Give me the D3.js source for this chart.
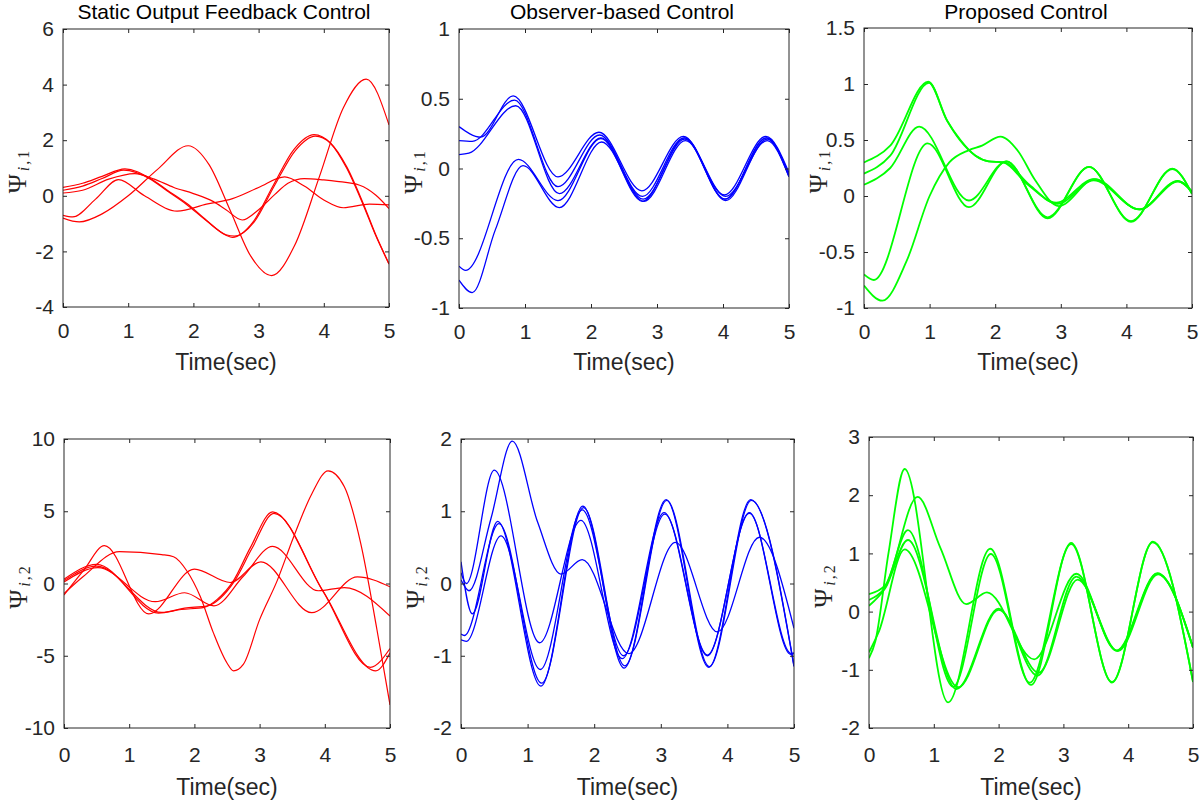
<!DOCTYPE html>
<html>
<head>
<meta charset="utf-8">
<script src="https://cdn.jsdelivr.net/npm/d3@7"></script>
<style>
  body { margin: 0; background: #fff; }
  svg { display: block; }
</style>
</head>
<body>
<svg id="chart"></svg>
<script>
// -----------------------------
// DATA (time in sec, value)
// -----------------------------
const timeTicks = [0, 1, 2, 3, 4, 5];
const titles = ["Static Output Feedback Control", "Observer-based Control", "Proposed Control"];

const yTicksSof1 = [-4, -2, 0, 2, 4, 6];
const yTicksObs1 = [-1, -0.5, 0, 0.5, 1];
const yTicksProp1 = [-1, -0.5, 0, 0.5, 1, 1.5];
const yTicksSof2 = [-10, -5, 0, 5, 10];
const yTicksObs2 = [-2, -1, 0, 1, 2];
const yTicksProp2 = [-2, -1, 0, 1, 2, 3];

// static output feedback, state 1
const sofPsi1 = [
  [[0,-0.8],[0.25,-0.94],[0.6,-0.65],[1.0,0.0],[1.45,0.95],[1.92,1.8],[2.24,1.12],[2.56,-0.5],[2.88,-2.17],[3.2,-2.87],[3.55,-1.8],[3.93,0.67],[4.3,3.17],[4.65,4.2],[5,2.55]],
  [[0,-0.7],[0.15,-0.76],[0.5,-0.12],[0.85,0.58],[1.25,0.0],[1.75,-0.55],[2.2,-0.3],[2.6,-0.1],[3.0,0.3],[3.4,0.68],[3.7,0.35],[4.0,-0.15],[4.3,-0.43],[4.7,-0.3],[5,-0.33]],
  [[0,0.1],[0.3,0.2],[0.7,0.6],[1.1,0.8],[1.4,0.6],[1.7,0.3],[2.0,0.08],[2.3,-0.2],[2.5,-0.5],[2.75,-0.87],[3.0,-0.5],[3.25,0.05],[3.45,0.45],[3.7,0.62],[4.0,0.57],[4.2,0.52],[4.55,0.38],[4.8,0.02],[5,-0.46]],
  [[0,0.3],[0.3,0.45],[0.6,0.7],[0.95,0.97],[1.34,0.62],[1.6,0.2],[1.9,-0.28],[2.2,-0.88],[2.5,-1.42],[2.6,-1.5],[2.91,-0.96],[3.22,0.35],[3.54,1.66],[3.85,2.2],[4.1,1.9],[4.35,1.0],[4.6,-0.3],[4.8,-1.45],[5,-2.45]],
  [[0,0.2],[0.3,0.35],[0.6,0.62],[0.93,0.92],[1.34,0.6],[1.6,0.17],[1.9,-0.32],[2.2,-0.9],[2.5,-1.4],[2.63,-1.45],[2.93,-0.95],[3.24,0.35],[3.56,1.62],[3.87,2.15],[4.1,1.9],[4.35,1.05],[4.6,-0.25],[4.8,-1.42],[5,-2.45]]
];

// observer-based, state 1
const obsPsi1 = [
  [[0,0.3],[0.33,0.225],[0.82,0.52],[1.5,-0.06],[2.12,0.26],[2.77,-0.16],[3.4,0.23],[4.02,-0.19],[4.65,0.23],[5,-0.03]],
  [[0,0.2],[0.2,0.195],[0.84,0.49],[1.5,-0.13],[2.13,0.24],[2.78,-0.2],[3.41,0.22],[4.03,-0.22],[4.66,0.22],[5,-0.05]],
  [[0,0.1],[0.15,0.11],[0.86,0.45],[1.52,-0.18],[2.15,0.22],[2.79,-0.22],[3.42,0.21],[4.04,-0.23],[4.67,0.21],[5,-0.06]],
  [[0,-0.7],[0.1,-0.73],[0.9,0.065],[1.5,-0.23],[2.15,0.215],[2.78,-0.235],[3.42,0.22],[4.03,-0.22],[4.66,0.22],[5,-0.05]],
  [[0,-0.8],[0.2,-0.89],[0.55,-0.44],[0.97,0.02],[1.52,-0.28],[2.16,0.19],[2.8,-0.235],[3.43,0.2],[4.04,-0.2],[4.67,0.2],[5,-0.06]]
];

// proposed, state 1
const propPsi1 = [
  [[0,0.3],[0.4,0.45],[0.98,1.02],[1.26,0.68],[1.46,0.5],[1.7,0.36],[1.9,0.31],[2.12,0.3],[2.5,0.1],[2.93,-0.06],[3.5,0.15],[4.2,-0.12],[4.78,0.135],[5,0.04]],
  [[0,0.2],[0.4,0.36],[0.99,1.01],[1.27,0.67],[1.47,0.5],[1.7,0.36],[1.9,0.31],[2.14,0.3],[2.52,0.1],[2.95,-0.07],[3.5,0.14],[4.2,-0.12],[4.78,0.13],[5,0.04]],
  [[0,0.1],[0.4,0.25],[0.84,0.62],[1.6,-0.04],[2.17,0.31],[2.8,-0.19],[3.43,0.26],[4.07,-0.225],[4.7,0.24],[5,0.02]],
  [[0,-0.7],[0.15,-0.75],[0.97,0.47],[1.6,-0.1],[2.17,0.31],[2.8,-0.2],[3.43,0.26],[4.07,-0.23],[4.7,0.245],[5,0.02]],
  [[0,-0.8],[0.28,-0.935],[0.65,-0.58],[1.0,0.0],[1.3,0.3],[1.6,0.41],[1.8,0.45],[2.08,0.53],[2.35,0.4],[2.6,0.15],[2.97,-0.09],[3.52,0.15],[4.2,-0.12],[4.8,0.13],[5,0.03]]
];

// static output feedback, state 2
const sofPsi2 = [
  [[0,-0.8],[0.3,0.9],[0.62,2.62],[1.3,-2.1],[2.0,1.0],[2.55,0.07],[3.02,1.5],[3.8,-2.02],[4.5,0.46],[5,-0.23]],
  [[0,-0.7],[0.3,0.5],[0.85,2.2],[1.5,2.0],[1.68,1.85],[1.88,0.9],[2.09,-0.9],[2.29,-3.4],[2.5,-5.5],[2.6,-6.05],[2.75,-5.6],[3.0,-2.5],[3.27,0.2],[3.52,3.2],[3.8,6.2],[4.05,7.8],[4.3,6.7],[4.55,2.8],[4.8,-3.2],[5,-8.4]],
  [[0,0.1],[0.52,1.1],[1.4,-1.26],[1.85,-0.64],[2.3,-1.55],[2.75,0.5],[3.2,2.57],[3.9,-0.5],[4.3,-0.28],[5,-2.25]],
  [[0,0.3],[0.5,1.33],[1.45,-2.05],[1.8,-1.8],[2.15,-1.65],[2.35,-1.1],[2.6,0.2],[2.86,2.5],[3.2,4.95],[3.97,-0.5],[4.78,-6.05],[5,-4.8]],
  [[0,0.2],[0.5,1.2],[1.5,-2.0],[1.85,-1.7],[2.2,-1.55],[2.4,-1.0],[2.62,0.2],[2.88,2.4],[3.22,4.85],[3.98,-0.6],[4.7,-5.8],[5,-4.5]]
];

// observer-based, state 2
const obsPsi2 = [
  [[0,0.05],[0.12,-0.1],[0.45,0.9],[0.77,1.97],[1.15,0.85],[1.5,0.13],[1.82,0.33],[2.52,-0.97],[3.22,0.57],[3.85,-0.67],[4.48,0.64],[5,-0.62]],
  [[0,0.15],[0.08,0.0],[0.5,1.57],[1.18,-0.82],[1.8,0.875],[2.42,-1.04],[3.05,0.98],[3.7,-1.0],[4.33,0.98],[4.95,-0.98],[5,-0.97]],
  [[0,0.3],[0.17,-0.42],[0.55,0.86],[1.2,-1.42],[1.83,1.07],[2.45,-1.17],[3.08,1.16],[3.72,-1.16],[4.35,1.16],[5,-1.15]],
  [[0,-0.7],[0.05,-0.72],[0.57,0.83],[1.21,-1.38],[1.84,1.05],[2.46,-1.14],[3.09,1.15],[3.73,-1.15],[4.36,1.15],[5,-1.14]],
  [[0,-0.78],[0.08,-0.8],[0.6,0.66],[1.19,-1.19],[1.82,1.02],[2.44,-1.0],[3.06,0.96],[3.7,-0.99],[4.33,0.97],[4.96,-0.97],[5,-0.96]]
];

// proposed, state 2
const propPsi2 = [
  [[0,-0.8],[0.1,-0.5],[0.3,1.0],[0.55,2.45],[1.22,-1.56],[1.87,1.08],[2.5,-1.26],[3.12,1.18],[3.75,-1.22],[4.38,1.2],[5,-1.21]],
  [[0,0.2],[0.25,0.42],[0.75,1.97],[1.1,1.1],[1.5,0.13],[1.82,0.33],[2.55,-0.82],[3.2,0.65],[3.82,-0.67],[4.45,0.66],[5,-0.62]],
  [[0,0.3],[0.25,0.45],[0.6,1.4],[1.3,-1.29],[1.88,0.99],[2.48,-1.22],[3.12,1.16],[3.75,-1.21],[4.38,1.19],[5,-1.2]],
  [[0,0.1],[0.25,0.4],[0.6,1.23],[1.35,-1.33],[2.0,0.05],[2.6,-1.1],[3.2,0.6],[3.83,-0.67],[4.45,0.65],[5,-0.62]],
  [[0,-0.7],[0.15,-0.35],[0.55,1.07],[1.38,-1.3],[2.0,0.03],[2.62,-1.05],[3.22,0.55],[3.84,-0.68],[4.46,0.64],[5,-0.61]]
];

// -----------------------------
// SETUP
// -----------------------------
let width = 1204,
    height = 807;

let svg = d3.select("#chart")
            .attr("width", width)
            .attr("height", height);

const axisColor = "#262626";
const sans = "'Liberation Sans', Arial, Helvetica, sans-serif";
const serif = "'Liberation Serif', 'Times New Roman', serif";

// one entry per subplot: box in pixels [left, right, top, bottom]
let panels = [
  { box: [63, 389, 29, 307],   data: sofPsi1,  yTicks: yTicksSof1,  title: titles[0], color: "#ff0000", lw: 1.2, sub: "1", row: 0 },
  { box: [459, 789, 29, 308],  data: obsPsi1,  yTicks: yTicksObs1,  title: titles[1], color: "#0000ff", lw: 1.3, sub: "1", row: 0 },
  { box: [864, 1192, 28, 308], data: propPsi1, yTicks: yTicksProp1, title: titles[2], color: "#00ff00", lw: 1.8, sub: "1", row: 0 },
  { box: [64, 390, 439, 728],  data: sofPsi2,  yTicks: yTicksSof2,  title: null, color: "#ff0000", lw: 1.2, sub: "2", row: 1 },
  { box: [461, 794, 439, 728], data: obsPsi2,  yTicks: yTicksObs2,  title: null, color: "#0000ff", lw: 1.3, sub: "2", row: 1 },
  { box: [869, 1193, 437, 728], data: propPsi2, yTicks: yTicksProp2, title: null, color: "#00ff00", lw: 1.8, sub: "2", row: 1 }
];

function styleAxis(g) {
  g.select(".domain").remove();
  g.selectAll("line").attr("stroke", axisColor);
  g.selectAll("text")
   .attr("fill", axisColor)
   .attr("font-size", 21)
   .attr("font-family", sans);
  g.attr("font-size", null).attr("font-family", null);
}

panels.forEach((p, i) => {
  let [x0, x1, y0, y1] = p.box;

  // -----------------------------
  // SCALES
  // -----------------------------
  let xScale = d3.scaleLinear().domain([0, 5]).range([x0, x1]);
  let yScale = d3.scaleLinear()
                 .domain(d3.extent(p.yTicks))
                 .range([y1, y0]);

  let g = svg.append("g");

  g.append("clipPath")
   .attr("id", "clip" + i)
   .append("rect")
   .attr("x", x0).attr("y", y0)
   .attr("width", x1 - x0).attr("height", y1 - y0);

  // -----------------------------
  // CURVES
  // -----------------------------
  let line = d3.line()
               .x(d => xScale(d[0]))
               .y(d => yScale(d[1]))
               .curve(d3.curveMonotoneX);

  g.append("g")
   .attr("clip-path", `url(#clip${i})`)
   .selectAll("path")
   .data(p.data)
   .enter()
   .append("path")
   .attr("d", line)
   .attr("fill", "none")
   .attr("stroke", p.color)
   .attr("stroke-width", p.lw)
   .attr("stroke-linejoin", "round");

  // -----------------------------
  // AXES (ticks inside, box on)
  // -----------------------------
  let pad = p.row === 0 ? 16 : 19;

  g.append("g")
   .attr("transform", `translate(0, ${y1})`)
   .call(d3.axisBottom(xScale).tickValues(timeTicks).tickSizeInner(-4).tickSizeOuter(0)
           .tickPadding(pad).tickFormat(d => String(d)))
   .call(styleAxis);

  g.append("g")
   .attr("transform", `translate(0, ${y0})`)
   .call(d3.axisTop(xScale).tickValues(timeTicks).tickSizeInner(-4).tickSizeOuter(0).tickFormat(""))
   .call(styleAxis);

  g.append("g")
   .attr("transform", `translate(${x0}, 0)`)
   .call(d3.axisLeft(yScale).tickValues(p.yTicks).tickSizeInner(-4).tickSizeOuter(0)
           .tickPadding(9).tickFormat(d => String(d)))
   .call(styleAxis);

  g.append("g")
   .attr("transform", `translate(${x1}, 0)`)
   .call(d3.axisRight(yScale).tickValues(p.yTicks).tickSizeInner(-4).tickSizeOuter(0).tickFormat(""))
   .call(styleAxis);

  g.append("rect")
   .attr("x", x0).attr("y", y0)
   .attr("width", x1 - x0).attr("height", y1 - y0)
   .attr("fill", "none")
   .attr("stroke", axisColor)
   .attr("stroke-width", 1);

  // -----------------------------
  // LABELS
  // -----------------------------
  let cx = (x0 + x1) / 2;

  if (p.title) {
    g.append("text")
     .attr("x", cx - 2)
     .attr("y", 19)
     .attr("text-anchor", "middle")
     .attr("font-family", sans)
     .attr("font-size", 21)
     .attr("fill", "#000")
     .text(p.title);
  }

  g.append("text")
   .attr("x", cx)
   .attr("y", p.row === 0 ? 370 : 795)
   .attr("text-anchor", "middle")
   .attr("font-family", sans)
   .attr("font-size", 23)
   .attr("fill", axisColor)
   .text("Time(sec)");

  // Psi_{i,k}, rotated
  let ylab = g.append("text")
              .attr("transform", `translate(${x0 - 37}, ${(y0 + y1) / 2 + 4}) rotate(-90)`)
              .attr("text-anchor", "middle")
              .attr("font-family", serif)
              .attr("fill", axisColor);

  ylab.append("tspan").attr("font-size", 26).text("Ψ");
  ylab.append("tspan").attr("font-size", 16).attr("font-style", "italic").attr("dy", 3).attr("dx", 3).text("i");
  ylab.append("tspan").attr("font-size", 16).attr("dx", 2).text(",");
  ylab.append("tspan").attr("font-size", 16).attr("dx", 2).text(p.sub);
});
</script>
</body>
</html>
